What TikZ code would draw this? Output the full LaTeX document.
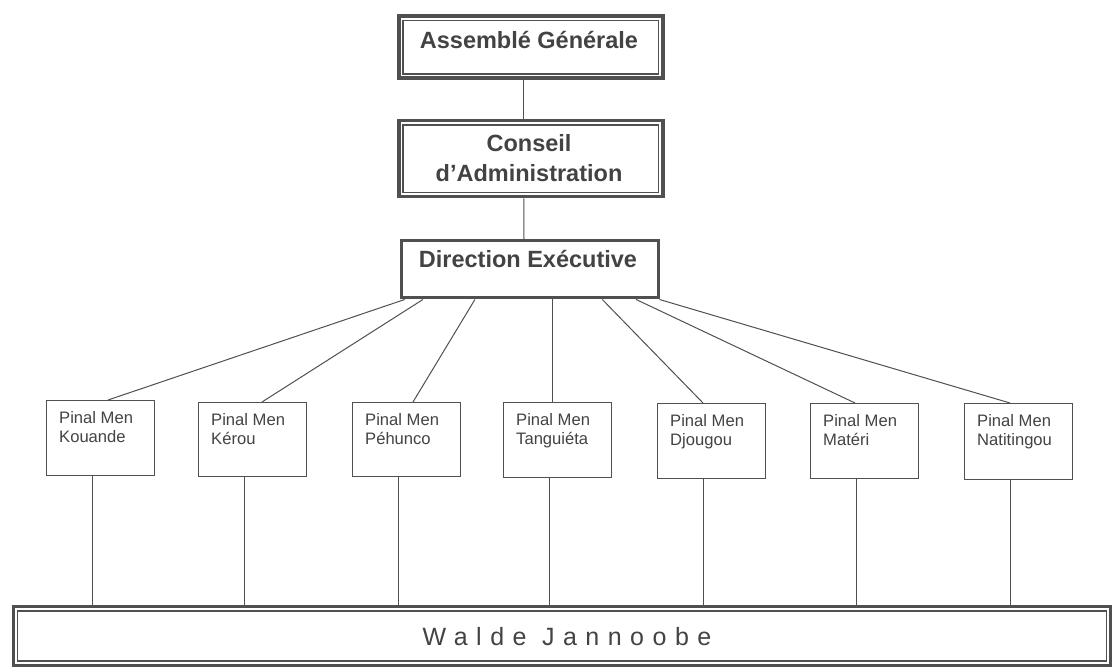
\documentclass[tikz,border=0pt]{standalone}
\usepackage{fontspec}
\setmainfont{Liberation Sans}
\newfontfamily\spacedfont[LetterSpace=34]{Liberation Sans}
\usetikzlibrary{calc}
\definecolor{ln}{HTML}{505050}
\definecolor{tx}{HTML}{434343}
\tikzset{
  bigbox/.style={draw=ln, line width=3.5pt, inner sep=0pt, anchor=north west},
  dirbox/.style={draw=ln, line width=3pt, inner sep=0pt, anchor=north west},
  innerline/.style={draw=ln, line width=1.2pt},
  smallbox/.style={draw=ln, line width=1pt, inner sep=0pt, anchor=north west, minimum width=108pt},
  bigtext/.style={text=tx, font=\bfseries\fontsize{23.5}{30}\selectfont, inner sep=0pt, align=center},
  smalltext/.style={text=tx, font=\fontsize{16.6}{19}\selectfont, inner sep=0pt, align=left, anchor=north west},
  conn/.style={draw=ln, line width=1pt},
}
\begin{document}
\begin{tikzpicture}[x=1pt,y=-1pt]
\useasboundingbox[fill=white] (0,0) rectangle (1114,668);

% top boxes
\node[bigbox, minimum width=264pt, minimum height=62pt] (ag) at (397,14.5) {};
\draw[innerline] ([shift={(6,6)}]ag.north west) rectangle ([shift={(-6,-6)}]ag.south east);
\node[bigtext, anchor=base] (agt) at (529,49) {Assemblé Générale};

\node[bigbox, minimum width=264pt, minimum height=76pt] (ca) at (397,119) {};
\draw[innerline] ([shift={(6,6)}]ca.north west) rectangle ([shift={(-6,-6)}]ca.south east);
\node[bigtext, anchor=base] (cat1) at (529,152) {Conseil};
\node[bigtext, anchor=base] (cat2) at (529,182) {d’Administration};

\node[dirbox, minimum width=257pt, minimum height=57pt] (de) at (399.5,239.5) {};
\node[bigtext, anchor=base] (det) at (528,268) {Direction Exécutive};

\draw[conn] ([xshift=-7]ag.south) -- ([xshift=-7]ca.north);
\draw[conn] ([xshift=-7]ca.south) -- ([xshift=-5.5]de.north);

% bottom box
\node[dirbox, minimum width=1097pt, minimum height=59pt] (wj) at (11.5,605) {};
\draw[innerline] ([shift={(6,6)}]wj.north west) rectangle ([shift={(-5,-6)}]wj.south east);
\node[text=tx, font=\spacedfont\fontsize{25}{30}\selectfont, inner sep=0pt, anchor=base] (wjt) at (567,645) {Walde Jannoobe};

% small boxes
\node[smallbox, minimum height=75pt] (k1) at (46,400) {};
\node[smallbox, minimum height=74pt] (k2) at (198,402) {};
\node[smallbox, minimum height=74pt] (k3) at (352,402) {};
\node[smallbox, minimum height=75pt] (k4) at (503,402) {};
\node[smallbox, minimum height=75pt] (k5) at (657,403) {};
\node[smallbox, minimum height=75pt] (k6) at (810,403) {};
\node[smallbox, minimum height=76pt] (k7) at (964,403) {};

\node[smalltext] (t1) at ([shift={(13,11)}]k1.north west) {Pinal Men\\Kouande};
\node[smalltext] (t2) at ([shift={(13,11)}]k2.north west) {Pinal Men\\Kérou};
\node[smalltext] (t3) at ([shift={(13,11)}]k3.north west) {Pinal Men\\Péhunco};
\node[smalltext] (t4) at ([shift={(13,11)}]k4.north west) {Pinal Men\\Tanguiéta};
\node[smalltext] (t5) at ([shift={(13,11)}]k5.north west) {Pinal Men\\Djougou};
\node[smalltext] (t6) at ([shift={(13,11)}]k6.north west) {Pinal Men\\Matéri};
\node[smalltext] (t7) at ([shift={(13,11)}]k7.north west) {Pinal Men\\Natitingou};

% connectors from Direction
\coordinate (d1) at ($(de.south west)!0.02!(de.south east)$);
\coordinate (d2) at ($(de.south west)!0.09!(de.south east)$);
\coordinate (d3) at ($(de.south west)!0.29!(de.south east)$);
\coordinate (d4) at ($(de.south west)!0.59!(de.south east)$);
\coordinate (d5) at ($(de.south west)!0.78!(de.south east)$);
\coordinate (d6) at ($(de.south west)!0.91!(de.south east)$);
\coordinate (d7) at ($(de.south west)!1.0!(de.south east)$);

\draw[conn] (d1) -- ([xshift=62]k1.north west);
\draw[conn] (d2) -- ([xshift=64]k2.north west);
\draw[conn] (d3) -- ([xshift=61]k3.north west);
\draw[conn] (d4) -- (d4 |- k4.north);
\draw[conn] (d5) -- ([xshift=46]k5.north west);
\draw[conn] (d6) -- ([xshift=45]k6.north west);
\draw[conn] (d7) -- ([xshift=46]k7.north west);

% connectors to Walde Jannoobe
\foreach \k in {k1,k2,k3,k4,k5,k6,k7}{
  \draw[conn] ([xshift=46]\k.south west) -- ([xshift=46]\k.south west |- wj.north);
}
\end{tikzpicture}
\end{document}
